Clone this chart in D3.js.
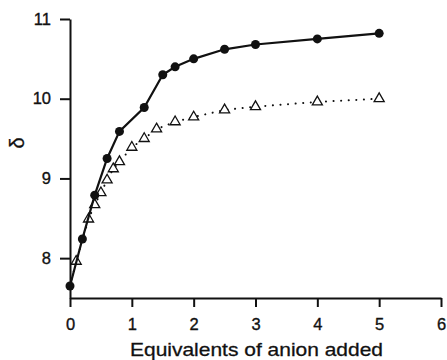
<!DOCTYPE html>
<html>
<head>
<meta charset="utf-8">
<script src="https://cdn.jsdelivr.net/npm/d3@7"></script>
<style>
  html, body { margin: 0; padding: 0; background: #fff; }
  svg { display: block; }
  text { font-family: "Liberation Sans", Arial, Helvetica, sans-serif; fill: #111; }
</style>
</head>
<body>
<svg id="chart" width="447" height="360"></svg>
<script>
// Chemical shift (δ) versus equivalents of anion added
const circleX = [0, 0.2, 0.4, 0.6, 0.8, 1.2, 1.5, 1.7, 2.0, 2.5, 3, 4, 5];
const circleY = [7.65, 8.24, 8.79, 9.25, 9.59, 9.89, 10.30, 10.40, 10.50, 10.62, 10.68, 10.75, 10.82];

const triangleX = [0, 0.1, 0.3, 0.4, 0.5, 0.6, 0.7, 0.8, 1.0, 1.2, 1.4, 1.7, 2.0, 2.5, 3, 4, 5];
const triangleY = [7.65, 7.96, 8.49, 8.67, 8.82, 8.98, 9.12, 9.21, 9.39, 9.50, 9.62, 9.71, 9.77, 9.86, 9.90, 9.96, 10.00];

const xTicks = [0, 1, 2, 3, 4, 5, 6];
const yTicks = [8, 9, 10, 11];
const xTitle = "Equivalents of anion added";
const yTitle = "δ";

const svg = d3.select("#chart");

const x = d3.scaleLinear().domain([0, 6]).range([70, 441]);
const y = d3.scaleLinear().domain([7.5, 11]).range([298, 19]);

// Axes
const xAxis = svg.append("g")
  .attr("transform", `translate(0,${y(7.5)})`)
  .call(d3.axisBottom(x).tickValues(xTicks).tickFormat(d3.format("d"))
    .tickSize(9).tickSizeOuter(0).tickPadding(11));

const yAxis = svg.append("g")
  .attr("transform", `translate(${x(0)},0)`)
  .call(d3.axisLeft(y).tickValues(yTicks).tickFormat(d3.format("d"))
    .tickSize(10).tickSizeOuter(0).tickPadding(9));

[xAxis, yAxis].forEach(g => {
  g.select(".domain").attr("stroke", "#111").attr("stroke-width", 2);
  g.selectAll(".tick line").attr("stroke", "#111").attr("stroke-width", 2);
  g.selectAll(".tick text")
    .attr("fill", "#111")
    .attr("stroke", "#111")
    .attr("stroke-width", 0.35)
    .style("font-size", "16.5px")
    .style("font-family", "Liberation Sans, Arial, sans-serif");
});

// Axis titles
svg.append("text")
  .attr("x", 256.5)
  .attr("y", 356)
  .attr("text-anchor", "middle")
  .attr("textLength", 253)
  .attr("lengthAdjust", "spacingAndGlyphs")
  .attr("stroke", "#111")
  .attr("stroke-width", 0.3)
  .style("font-size", "19px")
  .text(xTitle);

svg.append("text")
  .attr("transform", `translate(24,143) rotate(-90)`)
  .attr("text-anchor", "middle")
  .attr("stroke", "#111")
  .attr("stroke-width", 0.3)
  .style("font-size", "20px")
  .text(yTitle);

const line = d3.line().x(d => x(d[0])).y(d => y(d[1]));

const triData = triangleX.map((v, i) => [v, triangleY[i]]);
const circData = circleX.map((v, i) => [v, circleY[i]]);

// Dotted series (triangles)
svg.append("path")
  .datum(triData)
  .attr("fill", "none")
  .attr("stroke", "#111")
  .attr("stroke-width", 2)
  .attr("stroke-dasharray", "0.1,7.5")
  .attr("stroke-linecap", "round")
  .attr("d", line);

svg.append("g").selectAll("path")
  .data(triData.slice(1))
  .join("path")
  .attr("transform", d => `translate(${x(d[0])},${y(d[1])})`)
  .attr("d", d3.symbol(d3.symbolTriangle, 44))
  .attr("fill", "#fff")
  .attr("stroke", "#111")
  .attr("stroke-width", 1.3);

// Solid series (filled circles)
svg.append("path")
  .datum(circData)
  .attr("fill", "none")
  .attr("stroke", "#111")
  .attr("stroke-width", 2.2)
  .attr("d", line);

svg.append("g").selectAll("circle")
  .data(circData)
  .join("circle")
  .attr("cx", d => x(d[0]))
  .attr("cy", d => y(d[1]))
  .attr("r", 4.5)
  .attr("fill", "#111");
</script>
</body>
</html>
